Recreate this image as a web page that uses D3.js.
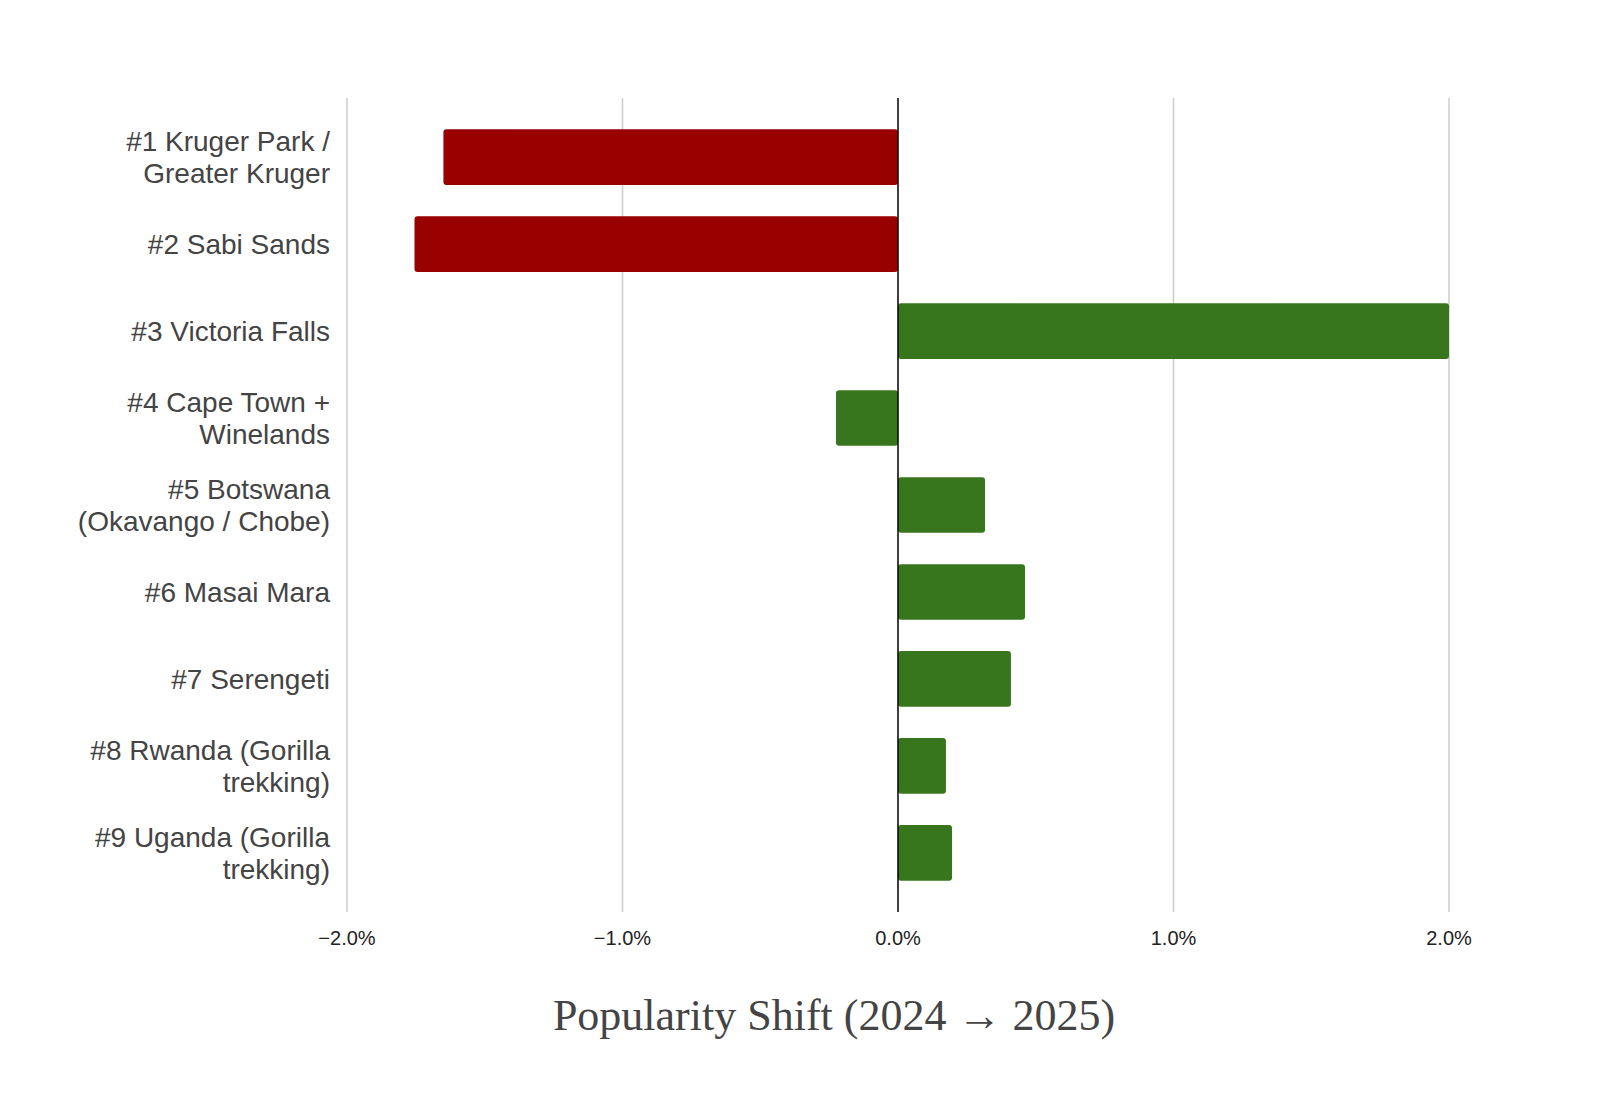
<!DOCTYPE html>
<html><head><meta charset="utf-8">
<script src="https://cdn.jsdelivr.net/npm/d3@7"></script>
<style>body{margin:0;background:#fff}</style>
</head><body>
<script>
// data
var labels = [
  ["#1 Kruger Park /", "Greater Kruger"],
  ["#2 Sabi Sands"],
  ["#3 Victoria Falls"],
  ["#4 Cape Town +", "Winelands"],
  ["#5 Botswana", "(Okavango / Chobe)"],
  ["#6 Masai Mara"],
  ["#7 Serengeti"],
  ["#8 Rwanda (Gorilla", "trekking)"],
  ["#9 Uganda (Gorilla", "trekking)"]
];
var shifts = [-1.65, -1.755, 2.0, -0.225, 0.316, 0.461, 0.41, 0.174, 0.196];
var barColors = ["#990000", "#990000", "#38761d", "#38761d", "#38761d", "#38761d", "#38761d", "#38761d", "#38761d"];
var ticks = [-2, -1, 0, 1, 2];

var W = 1600, H = 1118;
var svg = d3.select("body").append("svg").attr("width", W).attr("height", H);

var x = d3.scaleLinear().domain([-2, 2]).range([347, 1449]);
var y = d3.scaleBand().domain(d3.range(labels.length)).range([98, 912]).padding(0.36);

// gridlines
svg.selectAll("line.grid").data(ticks.filter(function(t){ return t !== 0; }))
  .enter().append("line")
    .attr("x1", function(d){ return x(d); }).attr("x2", function(d){ return x(d); })
    .attr("y1", 98).attr("y2", 912)
    .style("stroke", "#ccc").style("stroke-width", 1.5);

// bars
svg.selectAll("rect.bar").data(shifts).enter().append("rect")
    .attr("x", function(d){ return x(Math.min(0, d)); })
    .attr("y", function(d, i){ return y(i); })
    .attr("width", function(d){ return Math.abs(x(d) - x(0)); })
    .attr("height", y.bandwidth())
    .attr("rx", 3)
    .style("fill", function(d, i){ return barColors[i]; });

// zero line
svg.append("line").attr("x1", x(0)).attr("x2", x(0)).attr("y1", 98).attr("y2", 912)
  .style("stroke", "#000").style("stroke-width", 1.5);

// x tick labels
svg.selectAll("text.tick").data(ticks).enter().append("text")
    .attr("x", function(d){ return x(d); }).attr("y", 945)
    .attr("text-anchor", "middle")
    .style("font-family", "Liberation Sans, Arial, sans-serif").style("font-size", "20px").style("fill", "#222")
    .text(function(d){ return d3.format(".1f")(d) + "%"; });

// category labels
var lab = svg.selectAll("text.cat").data(labels).enter().append("text")
    .attr("text-anchor", "end")
    .style("font-family", "Liberation Sans, Arial, sans-serif").style("font-size", "28px").style("fill", "#444");
lab.each(function(d, i){
  var cy = y(i) + y.bandwidth() / 2;
  var t = d3.select(this);
  d.forEach(function(line, j){
    t.append("tspan").attr("x", 330)
      .attr("y", cy + 10 + (j - (d.length - 1) / 2) * 32)
      .text(line);
  });
});

// axis title
svg.append("text").attr("x", 834).attr("y", 1030).attr("text-anchor", "middle")
  .style("font-family", "Liberation Serif, Times New Roman, serif").style("font-size", "44px").style("fill", "#444")
  .text("Popularity Shift (2024 \u2192 2025)");
</script>
</body></html>
